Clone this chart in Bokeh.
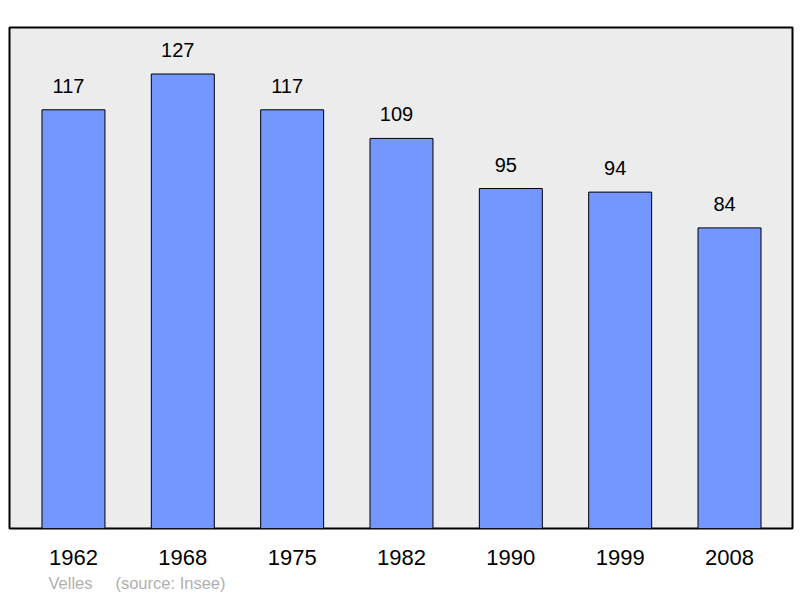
from bokeh.plotting import figure
from bokeh.models import ColumnDataSource, Range1d, FixedTicker, Title
from bokeh.core.properties import value
from bokeh.embed import file_html
from bokeh.resources import INLINE

years = ["1962", "1968", "1975", "1982", "1990", "1999", "2008"]
population = [117, 127, 117, 109, 95, 94, 84]
positions = list(range(len(years)))

source = ColumnDataSource(dict(x=positions, top=population,
                               label=[str(v) for v in population]))

p = figure(width=798, height=598, output_backend="svg", toolbar_location=None,
           x_range=Range1d(-0.585, 6.576), y_range=Range1d(0, 140),
           y_axis_location=None, min_border_left=9, min_border_right=6,
           min_border_top=27, min_border_bottom=70)
p.background_fill_color = "#ececec"
p.border_fill_color = "white"
p.outline_line_color = "black"
p.outline_line_width = 2
p.xgrid.visible = False
p.ygrid.visible = False

p.vbar(x="x", top="top", width=0.576, bottom=0, source=source,
       fill_color="#7396ff", line_color="black", line_width=1)
p.text(x="x", y="top", text="label", source=source, text_align="center",
       text_baseline="alphabetic", y_offset=-24, x_offset=-5,
       text_font_size="20px", text_color="black",
       text_font=value("Liberation Sans"))

ax = p.xaxis[0]
ax.ticker = FixedTicker(ticks=positions)
ax.major_label_overrides = {i: y for i, y in zip(positions, years)}
ax.axis_line_color = None
ax.major_tick_line_color = None
ax.minor_tick_line_color = None
ax.major_tick_out = 0
ax.major_label_standoff = 21
ax.major_label_text_font_size = "22px"
ax.major_label_text_font = "Liberation Sans"
ax.major_label_text_color = "black"

note = Title(text="Velles\u00a0\u00a0\u00a0\u00a0\u00a0(source: Insee)", align="left",
             offset=39, text_font_size="16.5px", text_color="#b0b0b0",
             text_font="Liberation Sans", text_font_style="normal",
             standoff=8)
p.add_layout(note, "below")

open("out.html", "w").write(file_html(p, INLINE))
